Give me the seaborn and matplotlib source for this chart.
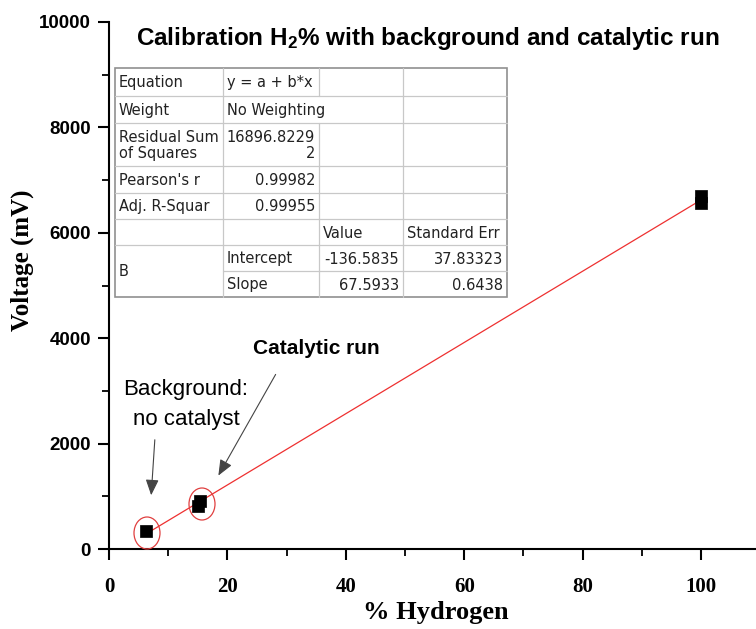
import matplotlib
matplotlib.use("Agg")
import matplotlib.pyplot as plt
from matplotlib.patches import Ellipse
from matplotlib.ticker import AutoMinorLocator
import seaborn as sns
import pandas as pd
import numpy as np

# ---- data ----
hydrogen_pct = [6.2, 15.0, 15.3, 100.0, 100.0]
voltage_mv = [340, 820, 905, 6560, 6690]
fit_intercept = -136.5835
fit_slope = 67.5933

table_rows = [
    ["Equation", "y = a + b*x", "", ""],
    ["Weight", "No Weighting", "", ""],
    ["Residual Sum\nof Squares", "16896.8229\n2", "", ""],
    ["Pearson's r", "0.99982", "", ""],
    ["Adj. R-Squar", "0.99955", "", ""],
    ["", "", "Value", "Standard Err"],
    ["B", "Intercept", "-136.5835", "37.83323"],
    ["", "Slope", "67.5933", "0.6438"],
]

title_text = "Calibration H$_2$% with background and catalytic run"
xlabel_text = "% Hydrogen"
ylabel_text = "Voltage (mV)"
x_ticks = [0, 20, 40, 60, 80, 100]
y_ticks = [0, 2000, 4000, 6000, 8000, 10000]

# ---- figure ----
sns.set_theme(style="ticks")
plt.rcParams["text.color"] = "black"
plt.rcParams["axes.labelcolor"] = "black"
plt.rcParams["xtick.color"] = "black"
plt.rcParams["ytick.color"] = "black"
plt.rcParams["mathtext.fontset"] = "custom"
plt.rcParams["mathtext.rm"] = "Liberation Sans:bold"
plt.rcParams["mathtext.it"] = "Liberation Sans:bold"
plt.rcParams["mathtext.bf"] = "Liberation Sans:bold"

W, H = 756, 629
fig = plt.figure(figsize=(W / 100, H / 100), dpi=100)
L, R, B, T = 109, 756, 549, 22
ax = fig.add_axes([L / W, 1 - B / H, (R - L) / W, (B - T) / H])

df = pd.DataFrame({"x": hydrogen_pct, "y": voltage_mv})
x_line = np.array([min(hydrogen_pct), max(hydrogen_pct)])
line_df = pd.DataFrame({"x": x_line, "y": fit_intercept + fit_slope * x_line})
sns.lineplot(data=line_df, x="x", y="y", ax=ax, color="#ee3030", lw=0.9, zorder=2)
sns.scatterplot(data=df, x="x", y="y", ax=ax, marker="s", s=80, color="black",
                edgecolor="black", linewidth=0.5, zorder=3)

ax.set_xlim(0, (R - L) / 5.92)
ax.set_ylim(0, 10000)
ax.set_xticks(x_ticks)
ax.set_yticks(y_ticks)
ax.xaxis.set_minor_locator(AutoMinorLocator(2))
ax.yaxis.set_minor_locator(AutoMinorLocator(2))
for s in ["top", "right"]:
    ax.spines[s].set_visible(False)
for s in ["left", "bottom"]:
    ax.spines[s].set_linewidth(1.5)
    ax.spines[s].set_color("black")
ax.tick_params(which="major", direction="out", length=8, width=1.5, color="black")
ax.tick_params(which="minor", direction="out", length=5, width=1.3, color="black")
ax.tick_params(axis="x", which="major", pad=12)
ax.tick_params(axis="y", which="major", pad=5)
for lab in ax.get_xticklabels():
    lab.set_fontfamily("Liberation Serif")
    lab.set_fontweight("bold")
    lab.set_fontsize(15)
for lab in ax.get_yticklabels():
    lab.set_fontfamily("Liberation Sans")
    lab.set_fontweight("bold")
    lab.set_fontsize(13.5)

ax.set_xlabel(xlabel_text, fontfamily="Liberation Serif", fontweight="bold", fontsize=19,
              va="center", ha="center")
ax.set_ylabel(ylabel_text, fontfamily="Liberation Serif", fontweight="bold", fontsize=18,
              va="center", ha="center")
ax.xaxis.set_label_coords((436 - L) / (R - L), -(612 - B) / (B - T))
ax.yaxis.set_label_coords((22 - L) / (R - L), (B - 260) / (B - T))

# ---- ellipses around highlighted points ----
px_per_x = (R - L) / ax.get_xlim()[1]
px_per_y = (B - T) / 10000
for (cx, cy) in [(147, 533), (202, 504)]:
    dx = (cx - L) / px_per_x
    dy = (B - cy) / px_per_y
    ax.add_patch(Ellipse((dx, dy), 26 / px_per_x, 32 / px_per_y, fill=False,
                         edgecolor="#e04040", lw=0.9, zorder=4, clip_on=False))

# ---- helpers in figure pixel coords ----
def fx(x):
    return x / W

def fy(y):
    return 1 - y / H

# title
fig.text(fx(428), fy(38), title_text, ha="center", va="center",
         fontfamily="Liberation Sans", fontweight="bold", fontsize=17.5)

# annotations
fig.text(fx(186), fy(389), "Background:", ha="center", va="center",
         fontfamily="Liberation Sans", fontsize=16)
fig.text(fx(186), fy(419), "no catalyst", ha="center", va="center",
         fontfamily="Liberation Sans", fontsize=16)
fig.text(fx(316), fy(349), "Catalytic run", ha="center", va="center",
         fontfamily="Liberation Sans", fontweight="bold", fontsize=15)
for (x0, y0, x1, y1) in [(155, 437, 151, 498), (277, 372, 217, 478)]:
    fig.add_artist(matplotlib.patches.FancyArrowPatch(
        (fx(x0), fy(y0)), (fx(x1), fy(y1)), transform=fig.transFigure,
        arrowstyle="-|>,head_length=6,head_width=2.5", color="#444444", lw=0.8,
        mutation_scale=1.6))

# ---- results table ----
col_x = [115, 223, 319, 403, 507]
row_y = [68, 96, 123, 166, 193, 219, 245, 271, 297]
grid_c = "#c8c8c8"
fig.add_artist(matplotlib.patches.Rectangle((fx(col_x[0]), fy(row_y[-1])),
               (col_x[-1] - col_x[0]) / W, (row_y[-1] - row_y[0]) / H,
               transform=fig.transFigure, facecolor="white", edgecolor="#909090",
               lw=1.2, zorder=5))

def hline(y, x0, x1):
    fig.add_artist(plt.Line2D([fx(x0), fx(x1)], [fy(y), fy(y)], transform=fig.transFigure,
                              color=grid_c, lw=0.9, zorder=6))

def vline(x, y0, y1):
    fig.add_artist(plt.Line2D([fx(x), fx(x)], [fy(y0), fy(y1)], transform=fig.transFigure,
                              color=grid_c, lw=0.9, zorder=6))

for i, y in enumerate(row_y[1:-1], start=1):
    if i == 7:
        hline(y, col_x[1], col_x[-1])
    else:
        hline(y, col_x[0], col_x[-1])
vline(col_x[1], row_y[0], row_y[-1])
vline(col_x[2], row_y[0], row_y[1])
vline(col_x[2], row_y[2], row_y[-1])
vline(col_x[3], row_y[0], row_y[-1])

tfont = dict(fontfamily="DejaVu Sans", fontsize=10.5, color="#222222", zorder=7)
for r, row in enumerate(table_rows):
    ytop, ybot = row_y[r], row_y[r + 1]
    yc = (ytop + ybot) / 2
    for c, txt in enumerate(row):
        if not txt:
            continue
        if r == 6 and c == 0:
            yc2 = (row_y[6] + row_y[8]) / 2
            fig.text(fx(col_x[0] + 4), fy(yc2 + 1), txt, ha="left", va="center", **tfont)
            continue
        numeric = c >= 1 and (txt[0].isdigit() or txt[0] == "-") and not (r == 0)
        if numeric:
            fig.text(fx(col_x[c + 1] - 4), fy(yc + 1), txt, ha="right", va="center",
                     multialignment="right", linespacing=1.15, **tfont)
        else:
            fig.text(fx(col_x[c] + 4), fy(yc + 1), txt, ha="left", va="center",
                     linespacing=1.15, **tfont)

fig.savefig("out.png", dpi=100)
